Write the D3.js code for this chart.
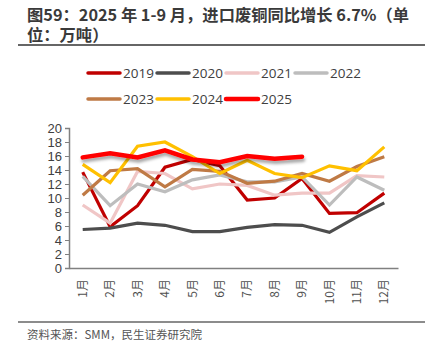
<!DOCTYPE html>
<html><head><meta charset="utf-8">
<script src="https://cdn.jsdelivr.net/npm/d3@7/dist/d3.min.js"></script>
<style>body{margin:0;background:#fff}svg{display:block}</style>
</head><body><svg id="c" width="431" height="356"></svg>
<script>
const months = ["1月","2月","3月","4月","5月","6月","7月","8月","9月","10月","11月","12月"];
const yTicks = [0,2,4,6,8,10,12,14,16,18,20];
const years = ["2019","2020","2021","2022","2023","2024","2025"];
const s2019 = [13.7,5.9,8.9,14.4,15.5,14.6,9.7,10.0,12.8,7.8,7.9,10.7];
const s2020 = [5.5,5.7,6.4,6.1,5.2,5.2,5.8,6.2,6.1,5.1,7.3,9.3];
const s2021 = [9.0,6.4,13.8,13.5,11.3,12.0,11.8,10.4,10.7,10.7,13.2,13.0];
const s2022 = [13.1,8.9,12.0,10.9,12.6,13.3,12.3,12.3,13.0,9.0,13.0,11.1];
const s2023 = [10.4,13.9,14.2,11.6,14.1,13.8,12.1,12.4,13.5,12.4,14.5,15.9];
const s2024 = [14.8,12.2,17.4,18.0,15.9,13.5,15.4,13.5,12.9,14.6,13.9,17.3];
const s2025 = [15.8,16.4,15.8,16.8,15.5,15.1,16.0,15.6,15.9];
const seriesValues = [s2019,s2020,s2021,s2022,s2023,s2024,s2025];
const colors = ["#C00000","#4D4D4D","#F0C6C6","#BDBDBD","#BF7A45","#FFC000","#FF0000"];

const svg = d3.select("#c");
const defs = svg.append("defs");
const f = defs.append("filter").attr("id","sh").attr("x","-10%").attr("y","-50%").attr("width","120%").attr("height","250%");
f.append("feDropShadow").attr("dx",1).attr("dy",3).attr("stdDeviation",1.6).attr("flood-color","#000").attr("flood-opacity",0.35);

const cjk = "'Noto Sans CJK SC','Noto Sans',sans-serif";
const title = svg.append("text").attr("font-family",cjk).attr("font-weight","bold")
  .attr("font-size",16.3).attr("fill","#3a3a3a");
title.append("tspan").attr("x",27).attr("y",21).text("图59：2025 年 1-9 月，进口废铜同比增长 6.7%（单");
title.append("tspan").attr("x",27).attr("y",41).text("位：万吨）");
svg.append("line").attr("x1",18).attr("x2",425).attr("y1",45).attr("y2",45).attr("stroke","#666").attr("stroke-width",2);

const lg = svg.append("g");
years.forEach((yr,i)=>{
  const col = i<4 ? i : i-4, row = i<4?0:1;
  const lx = 88 + col*69, ly = 73 + row*26;
  lg.append("line").attr("x1",lx).attr("x2",lx+32).attr("y1",ly).attr("y2",ly)
    .attr("stroke",colors[i]).attr("stroke-width", i===6?4.5:3.5).attr("stroke-linecap","round");
  lg.append("text").attr("x",lx+35).attr("y",ly+5).attr("font-family","'Open Sans','Noto Sans',sans-serif")
    .attr("font-size",13.5).attr("fill","#404040").text(yr);
});

const x = d3.scaleBand().domain(months).range([69,398]);
const y = d3.scaleLinear().domain([0,20]).range([268,128]);

const ya = svg.append("g").attr("transform","translate(69,0)")
  .call(d3.axisLeft(y).tickValues(yTicks).tickSize(4).tickPadding(3));
ya.select(".domain").attr("stroke","#808080").attr("stroke-width",1.5);
ya.selectAll(".tick line").attr("stroke","#808080");
ya.selectAll("text").attr("font-family","'Liberation Sans',Arial,sans-serif").attr("font-size",13).attr("fill","#404040");

const xa = svg.append("g").attr("transform","translate(0,268)")
  .call(d3.axisBottom(x).tickSize(0).tickPadding(0));
xa.select(".domain").attr("stroke","#808080").attr("stroke-width",1.5);
xa.selectAll("text").attr("font-family",cjk).attr("font-size",12).attr("fill","#505050")
  .attr("transform","rotate(-90)").attr("text-anchor","end").attr("dy","0.35em").attr("x",-11).attr("y",0);

const line = d3.line().x((d,i)=>x(months[i])+x.bandwidth()/2).y(d=>y(d));
seriesValues.forEach((vals,i)=>{
  const p = svg.append("path").datum(vals).attr("d",line).attr("fill","none")
    .attr("stroke",colors[i]).attr("stroke-width", i===6?4.5:3.2).attr("stroke-linejoin","miter");
  if(i===6) p.attr("filter","url(#sh)").attr("stroke-linecap","round");
});

svg.append("line").attr("x1",18).attr("x2",425).attr("y1",322).attr("y2",322).attr("stroke","#666").attr("stroke-width",1.5);
svg.append("text").attr("x",27).attr("y",339).attr("font-family",cjk).attr("font-size",11.5).attr("fill","#555")
  .text("资料来源：SMM，民生证券研究院");
</script></body></html>
